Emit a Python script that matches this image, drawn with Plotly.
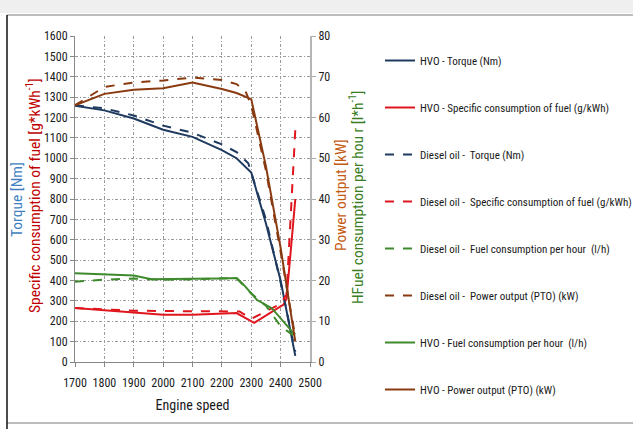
import plotly.graph_objects as go

# ---------------- data ----------------
hvo_torque_x = [1700, 1800, 1900, 2000, 2100, 2200, 2250, 2300, 2350, 2400, 2450]
hvo_torque_y = [1258, 1235, 1195, 1140, 1105, 1040, 1000, 930, 680, 400, 30]

hvo_sfc_x = [1700, 1800, 1900, 2000, 2100, 2200, 2250, 2310, 2410, 2420, 2450]
hvo_sfc_y = [265, 255, 245, 232, 232, 235, 240, 192, 282, 310, 800]

diesel_torque_x = [1700, 1800, 1900, 2000, 2100, 2200, 2250, 2290, 2350, 2400, 2450]
diesel_torque_y = [1260, 1245, 1210, 1160, 1125, 1068, 1030, 975, 700, 390, 50]

diesel_sfc_x = [1700, 1800, 1900, 2000, 2100, 2200, 2260, 2300, 2400, 2420, 2450]
diesel_sfc_y = [265, 258, 252, 250, 250, 250, 248, 212, 285, 330, 1140]

diesel_fuel_x = [1700, 1800, 1900, 2000, 2100, 2200, 2250, 2300, 2350, 2400, 2450]
diesel_fuel_y = [19.7, 20.2, 20.5, 20.2, 20.3, 20.4, 20.6, 16.8, 13.8, 8.8, 6.2]

diesel_power_x = [1700, 1800, 1900, 2000, 2100, 2200, 2250, 2280, 2300, 2350, 2400, 2450]
diesel_power_y = [63, 67.5, 68.6, 69.1, 69.8, 69.2, 68.2, 66.5, 63, 47, 27, 6]

hvo_fuel_x = [1700, 1800, 1900, 1960, 2000, 2100, 2200, 2250, 2280, 2320, 2370, 2410, 2440, 2450]
hvo_fuel_y = [21.8, 21.5, 21.2, 20.3, 20.3, 20.4, 20.5, 20.6, 18.5, 15.2, 13.2, 9.8, 7.4, 6.8]

hvo_power_x = [1700, 1800, 1900, 2000, 2100, 2200, 2250, 2300, 2350, 2400, 2450]
hvo_power_y = [63, 65.8, 66.8, 67.2, 68.6, 67, 66, 64.5, 48, 28, 5]

x_ticks = [1700, 1800, 1900, 2000, 2100, 2200, 2300, 2400, 2500]

# ---------------- styling ----------------
FONT = "Liberation Sans Narrow, Arial Narrow, Roboto Condensed, Carlito, Lato, sans-serif"
NAVY = "#1f3a5f"
RED = "#e0161e"
GREEN = "#3e8a2c"
BROWN = "#8a3a10"

W, H = 633, 429
L, R_PX, T, B_PX = 75, 310, 36, 362


def px(x):
    return (x - L) / (R_PX - L)


def py(y):
    return (B_PX - y) / (B_PX - T)


series = [
    ("HVO - Torque (Nm)", hvo_torque_x, hvo_torque_y, NAVY, "solid", "y"),
    ("HVO - Specific consumption of fuel (g/kWh)", hvo_sfc_x, hvo_sfc_y, RED, "solid", "y"),
    ("Diesel oil -  Torque (Nm)", diesel_torque_x, diesel_torque_y, NAVY, "dash", "y"),
    ("Diesel oil -  Specific consumption of fuel (g/kWh)", diesel_sfc_x, diesel_sfc_y, RED, "dash", "y"),
    ("Diesel oil -  Fuel consumption per hour  (l/h)", diesel_fuel_x, diesel_fuel_y, GREEN, "dash", "y2"),
    ("Diesel oil -  Power output (PTO) (kW)", diesel_power_x, diesel_power_y, BROWN, "dash", "y2"),
    ("HVO - Fuel consumption per hour  (l/h)", hvo_fuel_x, hvo_fuel_y, GREEN, "solid", "y2"),
    ("HVO - Power output (PTO) (kW)", hvo_power_x, hvo_power_y, BROWN, "solid", "y2"),
]

fig = go.Figure()
for i, (name, xs, ys, col, dash, ax) in enumerate(series):
    fig.add_trace(go.Scatter(
        x=xs, y=ys, name=name, mode="lines", yaxis=ax,
        line=dict(color=col, width=2, dash=dash),
        legendgroup=f"g{i}",
    ))

grid = dict(showgrid=True, gridcolor="#9a9a9a", gridwidth=1, griddash="3px,2px,1px,2px")

fig.update_layout(
    width=W, height=H,
    margin=dict(l=L, r=W - R_PX, t=T, b=H - B_PX, autoexpand=False),
    paper_bgcolor="white", plot_bgcolor="white",
    font=dict(family=FONT, size=12, color="#1a1a1a"),
    xaxis=dict(range=[1700, 2500], tickvals=x_ticks, ticks="outside", ticklen=4,
               tickcolor="#888888", showline=True, linecolor="#888888", linewidth=1,
               zeroline=False, ticklabelstandoff=6, tickfont=dict(size=12),
               title=dict(text="Engine speed", font=dict(size=14, color="#1a1a1a"), standoff=10),
               **grid),
    yaxis=dict(range=[0, 1600], dtick=100, ticks="outside", ticklen=4, tickcolor="#888888",
               showline=True, linecolor="#888888", linewidth=1, zeroline=False,
               tickfont=dict(size=12), **grid),
    yaxis2=dict(range=[0, 80], dtick=10, overlaying="y", side="right", showgrid=False,
                ticks="outside", ticklen=4, tickcolor="#aaaaaa", showline=True,
                linecolor="#b5b5b5", linewidth=2, zeroline=False, tickfont=dict(size=12)),
    legend=dict(x=px(380), y=py(46), xanchor="left", yanchor="top",
                font=dict(size=11, color="#1a1a1a"), tracegroupgap=28, maxheight=420,
                bgcolor="rgba(0,0,0,0)"),
    showlegend=True,
)

ann = [
    dict(text="Torque [Nm]", x=px(17), y=py(200), color="#3f7fc0"),
    dict(text="Specific consumption of fuel [g*kWh<sup>-1</sup>]", x=px(33), y=py(196), color="#c00000"),
    dict(text="Power output [kW]", x=px(341), y=py(195), color="#c55a11"),
    dict(text="HFuel consumption per hou r [l*h<sup>-1</sup>]", x=px(356), y=py(198), color="#3a7d22"),
]
for a in ann:
    fig.add_annotation(text=a["text"], x=a["x"], y=a["y"], xref="paper", yref="paper",
                       textangle=-90, showarrow=False, xanchor="center", yanchor="middle",
                       font=dict(size=15.5, color=a["color"], family=FONT))

# outer frame of the picture
fig.add_shape(type="rect", xref="paper", yref="paper", x0=px(0), x1=px(W), y0=py(0), y1=py(13),
              fillcolor="#efefef", line=dict(width=0), layer="below")
fig.add_shape(type="line", xref="paper", yref="paper", x0=px(7), x1=px(W), y0=py(15), y1=py(15),
              line=dict(color="#7a7a7a", width=1))
fig.add_shape(type="line", xref="paper", yref="paper", x0=px(7), x1=px(W), y0=py(423), y1=py(423),
              line=dict(color="#7a7a7a", width=1))
fig.add_shape(type="line", xref="paper", yref="paper", x0=px(7), x1=px(7), y0=py(15), y1=py(H),
              line=dict(color="#111111", width=1.5))

fig.write_html("out.html", config={"displayModeBar": False},
               post_script="document.body.style.margin='0';document.body.style.overflow='hidden';")
